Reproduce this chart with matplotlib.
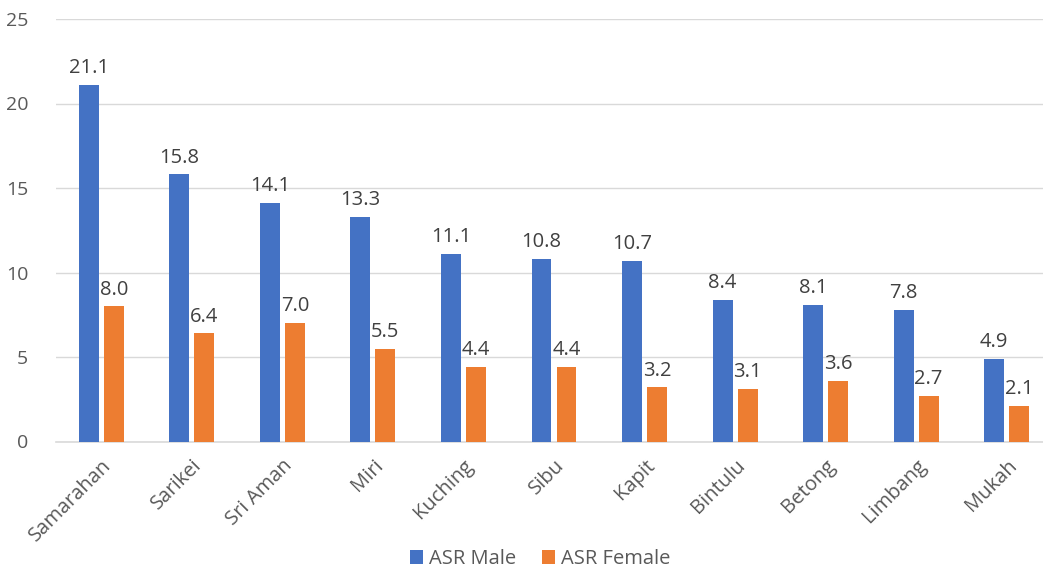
import matplotlib
matplotlib.use("Agg")
import matplotlib.pyplot as plt
import numpy as np

plt.rcParams['font.family'] = ['Open Sans', 'DejaVu Sans']

districts = ["Samarahan", "Sarikei", "Sri Aman", "Miri", "Kuching", "Sibu",
             "Kapit", "Bintulu", "Betong", "Limbang", "Mukah"]
asr_male = [21.1, 15.8, 14.1, 13.3, 11.1, 10.8, 10.7, 8.4, 8.1, 7.8, 4.9]
asr_female = [8.0, 6.4, 7.0, 5.5, 4.4, 4.4, 3.2, 3.1, 3.6, 2.7, 2.1]
y_ticks = [0, 5, 10, 15, 20, 25]

blue = "#4472C4"
orange = "#ED7D31"
text_grey = "#595959"

W, H = 1043, 569
fig = plt.figure(figsize=(W / 100, H / 100), dpi=100)
left, right = 56, 1052
bottom, top = 441.5, 19
ax = fig.add_axes([left / W, 1 - bottom / H, (right - left) / W, (bottom - top) / H])

x = np.arange(len(districts))
bw = 0.22
off = 0.138
b1 = ax.bar(x - off, asr_male, bw, color=blue, label="ASR Male", zorder=3)
b2 = ax.bar(x + off, asr_female, bw, color=orange, label="ASR Female", zorder=3)

for bars, vals in ((b1, asr_male), (b2, asr_female)):
    for r, v in zip(bars, vals):
        ax.text(r.get_x() + r.get_width() / 2, v + 0.4, f"{v:.1f}",
                ha="center", va="bottom", fontsize=14.5, color="#404040")

ax.set_xlim(-0.5, len(districts) - 0.5)
ax.set_ylim(0, 25)
ax.set_yticks(y_ticks)
ax.set_yticklabels([str(t) for t in y_ticks], fontsize=14, color=text_grey)
ax.set_xticks(x)
ax.set_xticklabels(districts, rotation=45, ha="right", rotation_mode="anchor",
                   fontsize=14.5, color=text_grey)
ax.tick_params(axis="both", length=0)
ax.tick_params(axis="y", pad=20)
ax.tick_params(axis="x", pad=10)

ax.grid(axis="y", color="#D9D9D9", linewidth=1, zorder=0)
for s in ["top", "right", "left"]:
    ax.spines[s].set_visible(False)
ax.spines["bottom"].set_color("#D9D9D9")
ax.spines["bottom"].set_linewidth(1.2)

fig.legend(handles=[b1, b2], loc="center", bbox_to_anchor=(540 / W, 1 - 559 / H),
           ncol=2, frameon=False, fontsize=14.5, handlelength=0.65, handleheight=0.65,
           columnspacing=1.3, handletextpad=0.3, labelcolor=text_grey)

fig.savefig("out.png", dpi=100)
